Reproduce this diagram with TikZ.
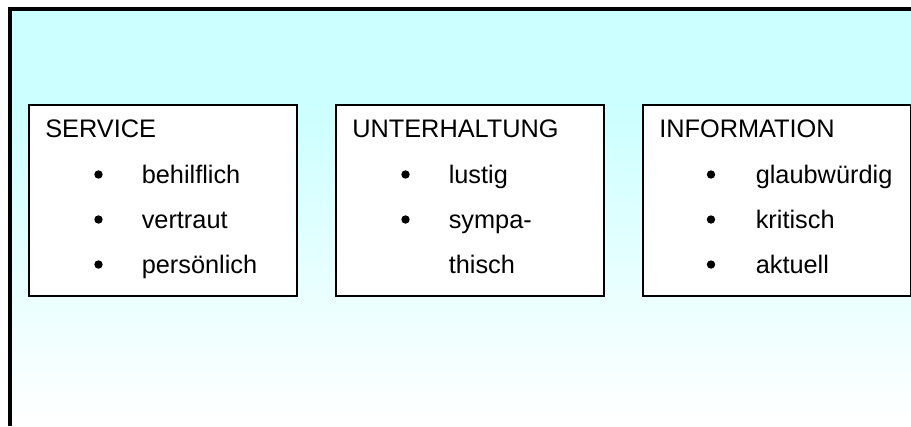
\documentclass[tikz,border=0pt]{standalone}
\usepackage{fontspec}
\setmainfont{Liberation Sans}
\usepackage{tikz}
\usetikzlibrary{positioning}

\begin{document}
\begin{tikzpicture}[x=0.75pt, y=-0.75pt,
    font=\fontsize{19}{23}\selectfont,
    box/.style={draw=black, line width=1.5pt, fill=white, inner sep=0pt,
                minimum width=201pt, minimum height=143.25pt, anchor=north west},
    head/.style={anchor=base west, inner sep=0pt},
    entry/.style={anchor=base west, inner sep=0pt},
    dot/.style={circle, fill=black, inner sep=0pt, minimum size=6.3pt}]
    \definecolor{palecyan}{RGB}{204,255,255}

    \useasboundingbox (0,0) rectangle (911,426);

    % Background: solid cyan band, then fading to white
    \fill[palecyan] (10,8.5) rectangle (911,106);
    \shade[top color=palecyan, bottom color=white] (10,105.5) rectangle (911,426);

    % Frame (left and top edge only)
    \draw[line width=3pt] (10,426) -- (10,8.5) -- (911,8.5);

    % The three boxes
    \node[box] (service) at (28,104) {};
    \node[box] (unterhaltung) at (335,104) {};
    \node[box] (information) at (642,104) {};

    % Box titles
    \node[head] (service title) at ([shift={(17,33)}]service.north west) {SERVICE};
    \node[head] (unterhaltung title) at ([shift={(17,33)}]unterhaltung.north west) {UNTERHALTUNG};
    \node[head] (information title) at ([shift={(17,33)}]information.north west) {INFORMATION};

    % SERVICE entries
    \node[dot] (service dot1) at ([shift={(70.5,70.5)}]service.north west) {};
    \node[entry] (service e1) at ([shift={(113.5,79)}]service.north west) {behilflich};
    \node[dot] (service dot2) at ([shift={(70.5,115.5)}]service.north west) {};
    \node[entry] (service e2) at ([shift={(113.5,124)}]service.north west) {vertraut};
    \node[dot] (service dot3) at ([shift={(70.5,160.5)}]service.north west) {};
    \node[entry] (service e3) at ([shift={(113.5,169)}]service.north west) {persönlich};

    % UNTERHALTUNG entries
    % (second entry runs over two lines)
    \node[dot] (unterhaltung dot1) at ([shift={(70.5,70.5)}]unterhaltung.north west) {};
    \node[entry] (unterhaltung e1) at ([shift={(113.5,79)}]unterhaltung.north west) {lustig};
    \node[dot] (unterhaltung dot2) at ([shift={(70.5,115.5)}]unterhaltung.north west) {};
    \node[entry] (unterhaltung e2) at ([shift={(113.5,124)}]unterhaltung.north west) {sympa-};
    \node[entry] (unterhaltung e2b) at ([shift={(113.5,169)}]unterhaltung.north west) {thisch};

    % INFORMATION entries
    \node[dot] (information dot1) at ([shift={(69,70.5)}]information.north west) {};
    \node[entry] (information e1) at ([shift={(113.5,79)}]information.north west) {glaubwürdig};
    \node[dot] (information dot2) at ([shift={(69,115.5)}]information.north west) {};
    \node[entry] (information e2) at ([shift={(113.5,124)}]information.north west) {kritisch};
    \node[dot] (information dot3) at ([shift={(69,160.5)}]information.north west) {};
    \node[entry] (information e3) at ([shift={(113.5,169)}]information.north west) {aktuell};
\end{tikzpicture}
\end{document}
